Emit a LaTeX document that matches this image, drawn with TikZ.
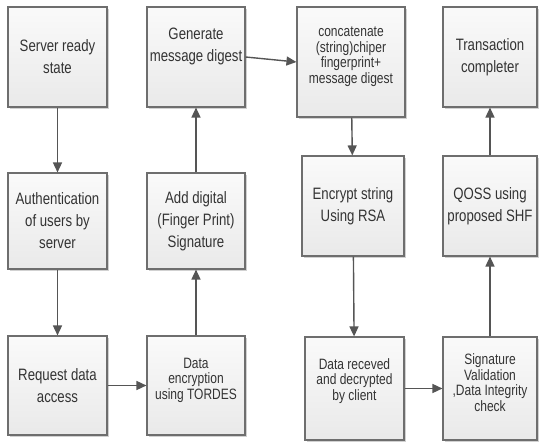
\documentclass[tikz,border=0pt]{standalone}
\usepackage{fontspec}
\newfontfamily\narrowsf{Liberation Sans}[FakeStretch=0.8]
\usepackage{xcolor}
\usetikzlibrary{positioning,arrows.meta,shadows}
\definecolor{ink}{HTML}{333333}
\definecolor{rim}{HTML}{6E6E6E}
\definecolor{wire}{HTML}{555555}
\tikzset{
  blk/.style={draw=rim, line width=1.1pt, top color=white!96!gray, bottom color=gray!17,
    drop shadow={shadow xshift=2pt, shadow yshift=-2pt, fill=gray!45, opacity=0.8},
    align=center, inner sep=2pt, text=ink,
    font=\narrowsf\fontsize{16.5}{22}\selectfont},
  tight/.style={blk, font=\narrowsf\fontsize{15}{15.6}\selectfont},
  lift/.style={text depth=#1},
  flow/.style={-{Triangle[length=10pt,width=9pt]}, wire, line width=1.4pt},
}
\begin{document}
\begin{tikzpicture}[x=1pt,y=-1pt]
\useasboundingbox (0,0) rectangle (539,443);
% server side, left column
\node[blk, minimum width=99pt, minimum height=100pt] (srv) at (57.5,57) {Server ready\\state};
\node[blk, minimum width=99pt, minimum height=96pt] (auth) at (57.5,221) {Authentication\\of users by\\server};
\node[blk, minimum width=99pt, minimum height=99pt] (req) at (57.5,385.5) {Request data\\access};
% encryption and signing
\node[tight, lift=14pt, minimum width=98pt, minimum height=99pt] (tordes) at (196,385.5) {Data\\encryption\\using TORDES};
\node[blk, minimum width=98pt, minimum height=96pt] (sign) at (196,221) {Add digital\\(Finger Print)\\Signature};
\node[blk, lift=24pt, minimum width=98pt, minimum height=100pt] (digest) at (196,57) {Generate\\message digest};
\node[tight, lift=14pt, minimum width=108pt, minimum height=110pt] (concat) at (351,62) {concatenate\\(string)chiper\\fingerprint+\\message digest};
\node[blk, minimum width=102pt, minimum height=100pt] (rsa) at (353,206) {Encrypt string\\Using RSA};
% client side
\node[tight, lift=18pt, minimum width=99pt, minimum height=103pt] (recv) at (354.5,388.5) {Data receved\\and decrypted\\by  client};
\node[tight, lift=12pt, minimum width=94pt, minimum height=103pt] (check) at (490,388.5) {Signature\\Validation\\,Data Integrity\\check};
\node[blk, minimum width=94pt, minimum height=100pt] (qoss) at (490,206) {QOSS using\\proposed SHF};
\node[blk, minimum width=94pt, minimum height=100pt] (done) at (490,57) {Transaction\\completer};
% connectors
\draw[flow] (srv) -- (auth);
\draw[flow] (auth) -- (req);
\draw[flow] (req) -- (tordes);
\draw[flow] (tordes) -- (sign);
\draw[flow] (sign) -- (digest);
\draw[flow] (digest.east) -- (concat.west);
\draw[flow] (concat) -- (rsa);
\draw[flow] (rsa) -- (recv);
\draw[flow] (recv) -- (check);
\draw[flow] (check) -- (qoss);
\draw[flow] (qoss) -- (done);
\end{tikzpicture}
\end{document}
